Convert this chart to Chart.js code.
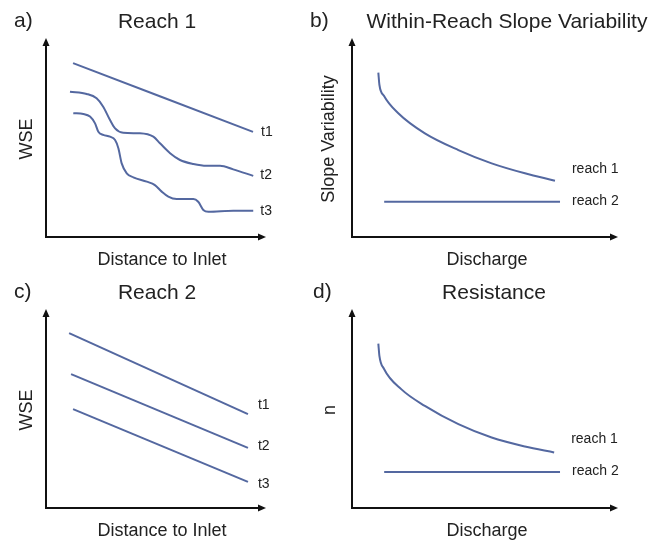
<!DOCTYPE html>
<html>
<head>
<meta charset="utf-8">
<script src="https://cdn.jsdelivr.net/npm/chart.js@4.4.1/dist/chart.umd.min.js"></script>
<style>
  body { margin: 0; background: #fff; }
  #wrap { position: relative; width: 651px; height: 542px; }
  .panel { position: absolute; }
</style>
</head>
<body>
<div id="wrap">
  <div class="panel" style="left:0;top:0;width:305px;height:271px"><canvas id="chartA"></canvas></div>
  <div class="panel" style="left:305px;top:0;width:346px;height:271px"><canvas id="chartB"></canvas></div>
  <div class="panel" style="left:0;top:271px;width:305px;height:271px"><canvas id="chartC"></canvas></div>
  <div class="panel" style="left:305px;top:271px;width:346px;height:271px"><canvas id="chartD"></canvas></div>
</div>
<script>
// conceptual curves (x and y both 0..100 of each panel's axes)
const reach1T1 = [[12.3, 87.4], [94.1, 52.8]];
const reach1T2 = [[10.9, 73.0], [18.5, 71.9], [23.0, 69.7], [26.0, 65.5], [29.1, 58.8], [31.4, 54.6],
    [35.1, 52.4], [42.7, 52.1], [48.8, 50.4], [51.8, 47.1], [56.4, 42.1], [60.9, 38.7],
    [67.0, 36.7], [73.0, 35.8], [79.1, 35.8], [85.1, 34.0], [94.2, 30.7]];
const reach1T3 = [[12.4, 62.2], [17.0, 61.8], [20.0, 60.5], [22.3, 57.1], [23.8, 52.9], [26.0, 51.3],
    [29.1, 50.4], [31.4, 48.7], [32.9, 44.6], [34.4, 37.0], [36.7, 32.0], [39.7, 30.0],
    [45.8, 27.8], [49.5, 26.1], [52.6, 22.8], [55.6, 20.3], [59.4, 19.1], [67.0, 19.1],
    [69.2, 17.7], [71.5, 13.6], [73.8, 12.7], [85.1, 13.2], [94.2, 13.2]];

const reach2T1 = [[10.5, 87.9], [91.8, 47.2]];
const reach2T2 = [[11.4, 67.3], [91.8, 30.2]];
const reach2T3 = [[12.3, 49.7], [91.8, 13.1]];

const slopeReach1 = [[9.9, 82.6], [10.3, 76.5], [12.0, 71.0], [17.4, 62.2], [27.4, 52.1],
    [40.0, 43.7], [52.5, 37.0], [65.0, 32.0], [76.3, 28.3]];
const slopeReach2 = [[12.1, 17.7], [78.2, 17.7]];

const resistReach1 = [[9.9, 82.6], [10.3, 76.5], [12.0, 70.0], [18.6, 59.6], [27.4, 51.3],
    [40.0, 42.1], [52.5, 35.4], [65.0, 30.9], [76.0, 27.9]];
const resistReach2 = [[12.1, 18.1], [78.2, 18.1]];

const lineColor = '#5468a0';
const fontFamily = '"Liberation Sans", Arial, sans-serif';

function pts(arr) {
    return arr.map(p => ({x: p[0], y: p[1]}));
}

function series(label, arr, dx, dy) {
    return {
        label: label,
        data: pts(arr),
        borderColor: lineColor,
        borderWidth: 2,
        pointRadius: 0,
        fill: false,
        cubicInterpolationMode: 'monotone',
        endLabel: {dx: dx, dy: dy}
    };
}

// axes with arrow heads + all the text of a panel
const panelPlugin = {
    id: 'panel',
    beforeDatasetsDraw(chart) {
        const ctx = chart.ctx, a = chart.chartArea;
        ctx.save();
        ctx.strokeStyle = '#111';
        ctx.fillStyle = '#111';
        ctx.lineWidth = 2;
        ctx.beginPath();
        ctx.moveTo(a.left, a.top + 6);
        ctx.lineTo(a.left, a.bottom);
        ctx.lineTo(a.right - 6, a.bottom);
        ctx.stroke();
        ctx.beginPath();
        ctx.moveTo(a.left, a.top);
        ctx.lineTo(a.left - 3.5, a.top + 8);
        ctx.lineTo(a.left + 3.5, a.top + 8);
        ctx.closePath();
        ctx.fill();
        ctx.beginPath();
        ctx.moveTo(a.right, a.bottom);
        ctx.lineTo(a.right - 8, a.bottom - 3.5);
        ctx.lineTo(a.right - 8, a.bottom + 3.5);
        ctx.closePath();
        ctx.fill();
        ctx.restore();
    },
    afterDraw(chart, args, opts) {
        const ctx = chart.ctx;
        ctx.save();
        ctx.fillStyle = '#222';
        ctx.textBaseline = 'middle';

        ctx.font = '21px ' + fontFamily;
        ctx.textAlign = 'left';
        ctx.fillText(opts.letter, opts.letterX, 21);
        ctx.textAlign = 'center';
        ctx.fillText(opts.title, opts.titleX, 22);

        ctx.font = '18px ' + fontFamily;
        ctx.fillText(opts.xTitle, opts.xTitleX, 260);
        ctx.save();
        ctx.translate(opts.yTitleX, 139);
        ctx.rotate(-Math.PI / 2);
        ctx.fillText(opts.yTitle, 0, 0);
        ctx.restore();

        // labels at the end of each line
        ctx.font = '14px ' + fontFamily;
        ctx.textAlign = 'left';
        chart.data.datasets.forEach((ds, i) => {
            const meta = chart.getDatasetMeta(i);
            const last = meta.data[meta.data.length - 1];
            ctx.fillText(ds.label, last.x + ds.endLabel.dx, last.y + ds.endLabel.dy);
        });
        ctx.restore();
    }
};

function makePanel(id, datasets, padding, text) {
    new Chart(document.getElementById(id), {
        type: 'line',
        data: {datasets: datasets},
        plugins: [panelPlugin],
        options: {
            responsive: true,
            maintainAspectRatio: false,
            animation: false,
            layout: {padding: padding},
            scales: {
                x: {type: 'linear', min: 0, max: 100, display: false},
                y: {type: 'linear', min: 0, max: 100, display: false}
            },
            plugins: {
                legend: {display: false},
                tooltip: {enabled: false},
                panel: text
            }
        }
    });
}

const padLeft = {left: 46, right: 39, top: 38, bottom: 34};
const padRight = {left: 47, right: 33, top: 38, bottom: 34};

makePanel('chartA', [
    series('t1', reach1T1, 8, 0),
    series('t2', reach1T2, 7, -1),
    series('t3', reach1T3, 7, 0)
], padLeft, {letter: 'a)', letterX: 14, title: 'Reach 1', titleX: 157,
    xTitle: 'Distance to Inlet', xTitleX: 162, yTitle: 'WSE', yTitleX: 27});

makePanel('chartB', [
    series('reach 1', slopeReach1, 17, -12),
    series('reach 2', slopeReach2, 12, -1)
], padRight, {letter: 'b)', letterX: 5, title: 'Within-Reach Slope Variability', titleX: 202,
    xTitle: 'Discharge', xTitleX: 182, yTitle: 'Slope Variability', yTitleX: 24});

makePanel('chartC', [
    series('t1', reach2T1, 10, -9),
    series('t2', reach2T2, 10, -2),
    series('t3', reach2T3, 10, 2)
], padLeft, {letter: 'c)', letterX: 14, title: 'Reach 2', titleX: 157,
    xTitle: 'Distance to Inlet', xTitleX: 162, yTitle: 'WSE', yTitleX: 27});

makePanel('chartD', [
    series('reach 1', resistReach1, 17, -13),
    series('reach 2', resistReach2, 12, -1)
], padRight, {letter: 'd)', letterX: 8, title: 'Resistance', titleX: 189,
    xTitle: 'Discharge', xTitleX: 182, yTitle: 'n', yTitleX: 25});
</script>
</body>
</html>
